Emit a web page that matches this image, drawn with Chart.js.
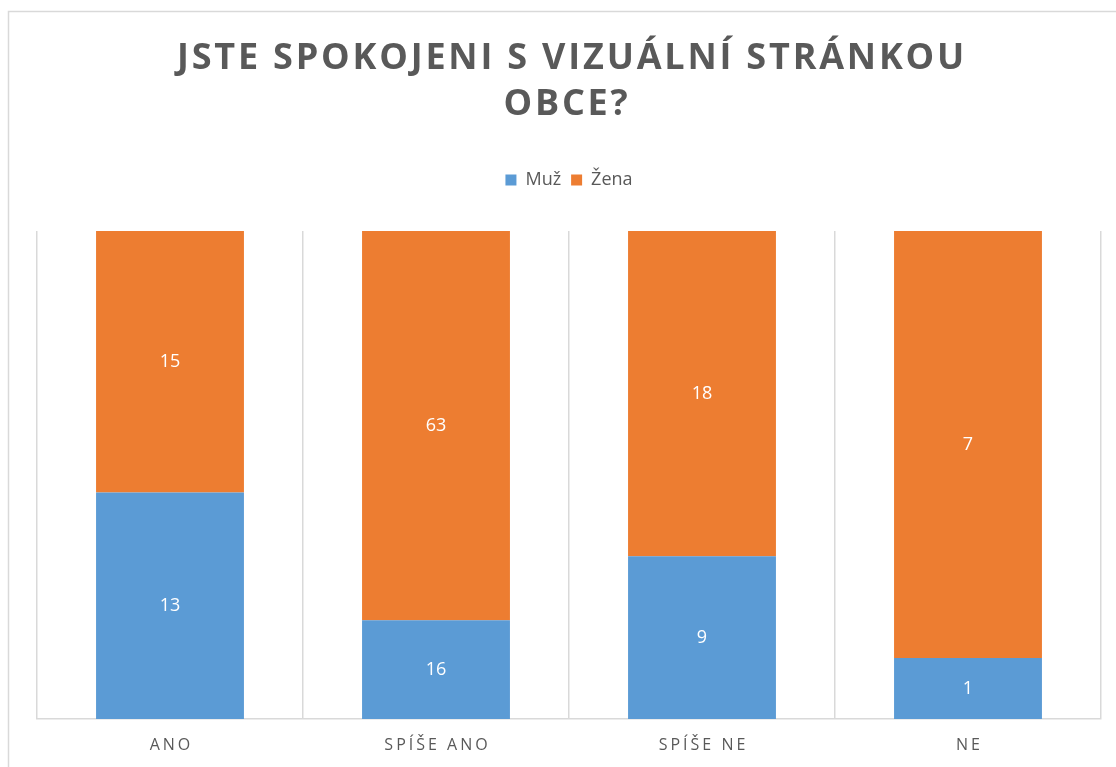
<!DOCTYPE html>
<html>
<head>
<meta charset="utf-8">
<script src="https://cdn.jsdelivr.net/npm/chart.js@4/dist/chart.umd.min.js"></script>
<style>
  html, body { margin: 0; padding: 0; background: #fff; }
  #wrap { width: 1116px; height: 767px; }
</style>
</head>
<body>
<div id="wrap"><canvas id="chart" width="1116" height="767"></canvas></div>
<script>
  // data
  var categories = ['ANO', 'SPÍŠE ANO', 'SPÍŠE NE', 'NE']
  var muz = [13, 16, 9, 1]
  var zena = [15, 63, 18, 7]
  var titleLines = ['JSTE SPOKOJENI S VIZUÁLNÍ STRÁNKOU', 'OBCE?']

  var grey = '#595959'
  var colors = { blue: '#5B9BD5', orange: '#ED7D31' }

  // 100% stacked: convert counts to shares, keep counts for labels
  function share(a, b) {
    return a.map(function (v, i) { return v / (a[i] + b[i]) * 100 })
  }

  var framePlugin = {
    id: 'frame',
    beforeDraw: function (chart) {
      var ctx = chart.ctx
      ctx.save()
      ctx.strokeStyle = '#d9d9d9'
      ctx.lineWidth = 1.5
      ctx.strokeRect(8.5, 11.5, 1200, 800)
      ctx.restore()
    }
  }

  var titlePlugin = {
    id: 'spacedTitle',
    afterDraw: function (chart) {
      var ctx = chart.ctx
      ctx.save()
      ctx.fillStyle = grey
      ctx.font = 'bold 36px "Open Sans"'
      ctx.textAlign = 'center'
      ctx.textBaseline = 'middle'
      ctx.letterSpacing = '2.8px'
      ctx.fillText(titleLines[0], 572, 59)
      ctx.fillText(titleLines[1], 567, 105)
      ctx.restore()
    }
  }

  var labelPlugin = {
    id: 'segmentLabels',
    afterDatasetsDraw: function (chart) {
      var ctx = chart.ctx
      ctx.save()
      ctx.fillStyle = '#ffffff'
      ctx.font = '18px "Open Sans"'
      ctx.textAlign = 'center'
      ctx.textBaseline = 'middle'
      chart.data.datasets.forEach(function (ds, di) {
        chart.getDatasetMeta(di).data.forEach(function (bar, i) {
          var p = bar.getCenterPoint()
          ctx.fillText(ds.counts[i], p.x, p.y)
        })
      })
      // category labels with letter spacing
      var xs = chart.scales.x
      ctx.fillStyle = grey
      ctx.font = '16px "Open Sans"'
      ctx.letterSpacing = '3px'
      categories.forEach(function (c, i) {
        ctx.fillText(c, xs.getPixelForValue(i) + 1.5, 745)
      })
      ctx.restore()
    }
  }

  new Chart(document.getElementById('chart'), {
    type: 'bar',
    data: {
      labels: categories,
      datasets: [{
        label: 'Muž',
        data: share(muz, zena),
        counts: muz,
        backgroundColor: colors.blue
      }, {
        label: 'Žena',
        data: share(zena, muz),
        counts: zena,
        backgroundColor: colors.orange
      }]
    },
    options: {
      responsive: false,
      animation: false,
      categoryPercentage: 1,
      barPercentage: 0.556,
      layout: { padding: { top: 161, left: 37, right: 15, bottom: 48 } },
      plugins: {
        legend: {
          labels: {
            color: grey,
            font: { family: '"Open Sans"', size: 18 },
            boxWidth: 11,
            boxHeight: 11,
            padding: 10
          }
        },
        tooltip: { enabled: false }
      },
      scales: {
        x: {
          stacked: true,
          grid: { color: '#d9d9d9', lineWidth: 1.5, drawTicks: false, offset: true },
          border: { color: '#d9d9d9', width: 1.5 },
          ticks: { display: false }
        },
        gap: {
          type: 'category',
          position: 'top',
          grid: { display: false },
          border: { display: false },
          ticks: { display: false },
          afterFit: function (s) { s.height = 32 }
        },
        y: {
          stacked: true,
          display: false,
          min: 0,
          max: 100
        }
      }
    },
    plugins: [framePlugin, titlePlugin, labelPlugin]
  })
</script>
</body>
</html>
